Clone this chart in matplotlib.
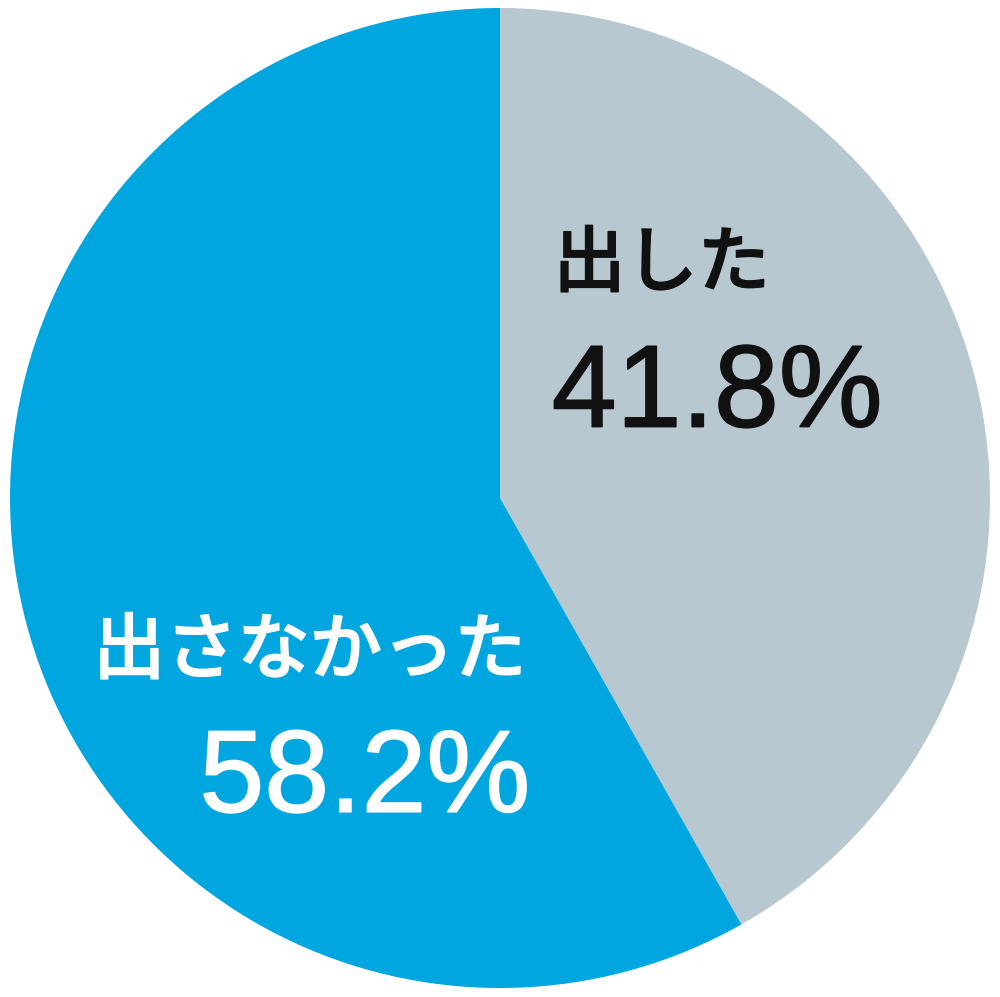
import matplotlib.pyplot as plt
import matplotlib.patheffects as pe

labels = ['出した', '出さなかった']
values = [41.8, 58.2]
colors = ['#b8c8d1', '#00a6df']
text_colors = ['#111111', 'white']

plt.rcParams['font.family'] = ['Noto Sans CJK JP', 'DejaVu Sans']

fig = plt.figure(figsize=(10, 9.97), dpi=100)
ax = fig.add_axes([0, 0, 1, 1])
ax.pie(values, colors=colors, startangle=90, counterclock=False,
       radius=1.0, wedgeprops=dict(linewidth=0))
ax.set_aspect('equal')
ax.set_xlim(-500 / 490, 500 / 490)
ax.set_ylim((498 - 997) / 490, 498 / 490)
ax.axis('off')

# label positions (data units of the unit pie)
name_pos = [(0.33, 0.476), (-0.388, -0.314)]
pct_pos = [(0.443, 0.208), (-0.276, -0.578)]
for lab, val, tc, npos, ppos in zip(labels, values, text_colors, name_pos, pct_pos):
    t = ax.text(*npos, lab, color=tc, fontsize=52, fontweight='medium',
                ha='center', va='center')
    t.set_path_effects([pe.withStroke(linewidth=1.0, foreground=tc)])
    t = ax.text(*ppos, f'{val:.1f}%', color=tc, fontsize=84,
                family=['Liberation Sans', 'DejaVu Sans'],
                ha='center', va='center')
    t.set_path_effects([pe.withStroke(linewidth=1.2, foreground=tc)])

fig.savefig('out.png', dpi=100)
